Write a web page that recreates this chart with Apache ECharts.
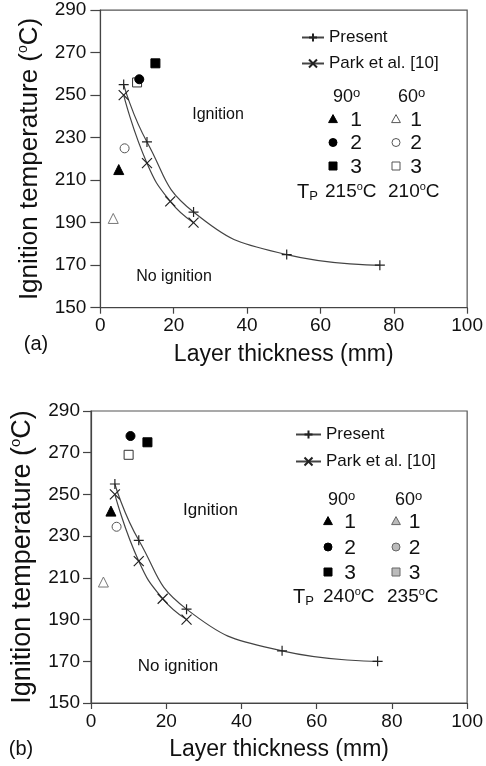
<!DOCTYPE html>
<html>
<head>
<meta charset="utf-8">
<script src="https://cdn.jsdelivr.net/npm/echarts@6/dist/echarts.min.js"></script>
<style>
html,body{margin:0;padding:0;background:#fff;}
#chart{width:486px;height:766px;}
</style>
</head>
<body>
<div id="chart"></div>
<script>
// ---- data ----
const presentThickness = [6.35, 12.7, 25.4, 50.8, 76.2];
const presentTemp = [255, 228, 195, 175, 170];
const parkThickness = [6.35, 12.7, 19.05, 25.4];
const parkTemp = [250, 218, 200, 190];

// panel (a) tests: [thickness, temperature]
const a90_1 = [[5.0, 215]];
const a90_2 = [[10.6, 257.5]];
const a90_3 = [[15.0, 265]];
const a60_1 = [[3.5, 192]];
const a60_2 = [[6.6, 225]];
const a60_3 = [[10.0, 256]];

// panel (b) tests
const b90_1 = [[5.3, 242]];
const b90_2 = [[10.5, 278]];
const b90_3 = [[15.0, 275]];
const b60_1 = [[3.3, 208]];
const b60_2 = [[6.8, 234.5]];
const b60_3 = [[10.0, 269]];

const xTicks = [0, 20, 40, 60, 80, 100];
const yTicks = [150, 170, 190, 210, 230, 250, 270, 290];
const angles = ['90', '60'];
const caseNums = ['1', '2', '3'];
const tpA = ['215', '210'];
const tpB = ['240', '235'];
const seriesNames = ['Present', 'Park et al. [10]'];

const FONT = '"Liberation Sans", Arial, sans-serif';
const zip = (xs, ys) => xs.map((x, i) => [x, ys[i]]);
const plusPath = 'path://M5,0L5,10M0,5L10,5';
const crossPath = 'path://M0,0L10,10M10,0L0,10';

function makeXAxis(gridIndex) {
  return {
    type: 'value', gridIndex, min: xTicks[0], max: xTicks[xTicks.length - 1], interval: 20,
    name: 'Layer thickness (mm)', nameLocation: 'middle', nameGap: 35,
    nameTextStyle: {fontSize: 23, color: '#111', fontFamily: FONT},
    axisLine: {show: true, lineStyle: {color: '#444', width: 1.2}},
    axisTick: {show: true, length: 6, lineStyle: {color: '#444', width: 1.2}},
    axisLabel: {fontSize: 19, color: '#111', fontFamily: FONT, margin: 9},
    splitLine: {show: false}
  };
}
function makeYAxis(gridIndex, nameSize, gap, tickLen, margin) {
  return {
    type: 'value', gridIndex, min: yTicks[0], max: yTicks[yTicks.length - 1], interval: 20,
    name: 'Ignition temperature ({s|o}C)', nameLocation: 'middle', nameRotate: 90, nameGap: gap,
    nameTextStyle: {fontSize: nameSize, color: '#111', fontFamily: FONT, lineHeight: nameSize + 2,
      rich: {s: {fontSize: Math.round(nameSize * 0.55), lineHeight: Math.round(nameSize * 0.55), verticalAlign: 'top', color: '#111', fontFamily: FONT}}},
    axisLine: {show: true, lineStyle: {color: '#444', width: 1.2}},
    axisTick: {show: true, length: tickLen, lineStyle: {color: '#444', width: 1.2}},
    axisLabel: {fontSize: 19, color: '#111', fontFamily: FONT, margin: margin},
    splitLine: {show: false}
  };
}

function lineSeries(name, xs, ys, sym, idx) {
  return {
    type: 'line', name, xAxisIndex: idx, yAxisIndex: idx, data: zip(xs, ys),
    smooth: 0.5, symbol: sym, symbolSize: 10, showAllSymbol: true,
    lineStyle: {color: '#444', width: 1.2},
    itemStyle: {color: '#222', borderColor: '#222', borderWidth: 1.2},
    emphasis: {disabled: true}, z: 3
  };
}
function scatter(name, data, symbol, fill, stroke, idx) {
  return {
    type: 'scatter', name, xAxisIndex: idx, yAxisIndex: idx, data,
    symbol, symbolSize: symbol === 'triangle' ? 10 : 9,
    itemStyle: {color: fill, borderColor: stroke, borderWidth: 1, opacity: 1},
    emphasis: {disabled: true}, z: 4
  };
}

// ---- legend-table graphics (keys for the test markers) ----
function icon(kind, cx, cy, s, fill, stroke) {
  const st = {fill, stroke, lineWidth: 1};
  if (kind === 'triangle') {
    return {type: 'polygon', shape: {points: [[cx, cy - s * 0.55], [cx + s * 0.55, cy + s * 0.45], [cx - s * 0.55, cy + s * 0.45]]}, style: st};
  }
  if (kind === 'circle') return {type: 'circle', shape: {cx, cy, r: s / 2}, style: st};
  return {type: 'rect', shape: {x: cx - s / 2, y: cy - s / 2, width: s, height: s}, style: st};
}
function txt(text, x, y, size, align, rich) {
  return {type: 'text', x, y, style: {text, fontSize: size, fontFamily: FONT, fill: '#111', align: align || 'left', verticalAlign: 'middle', lineHeight: size + 2, rich: rich || undefined}};
}
const supRich = (sz) => ({s: {fontSize: sz, lineHeight: sz, verticalAlign: 'top', fontFamily: FONT, fill: '#111'}});
const subRich = (sz) => ({p: {fontSize: sz, lineHeight: sz, verticalAlign: 'bottom', fontFamily: FONT, fill: '#111'}});
const kinds = ['triangle', 'circle', 'rect'];

function table(cfg) {
  const g = [];
  angles.forEach((a, c) => {
    g.push(txt(a + '{s|o}', cfg.angleX[c], cfg.angleY, 18, 'left', supRich(13)));
  });
  caseNums.forEach((n, r) => {
    const y = cfg.rowY[r];
    g.push(icon(kinds[r], cfg.iconX[0], y, 8, '#000', '#000'));
    g.push(icon(kinds[r], cfg.iconX[1], y, 8, cfg.fill60, cfg.stroke60));
    g.push(txt(n, cfg.numX[0], y + 1, 21, 'center'));
    g.push(txt(n, cfg.numX[1], y + 1, 21, 'center'));
  });
  g.push(txt('T{p|P}', cfg.tX, cfg.tY, 20, 'left', subRich(13)));
  cfg.tp.forEach((v, c) => {
    g.push(txt(v + '{s|o}C', cfg.tpX[c], cfg.tY, 19, 'left', supRich(11)));
  });
  return g;
}

const graphics = [].concat(
  table({angleX: [333, 398], angleY: 97, rowY: [119, 142.5, 166], iconX: [333, 396], numX: [356, 416],
         fill60: '#fff', stroke60: '#555', tX: 297, tY: 192, tp: tpA, tpX: [325, 388]}),
  table({angleX: [328, 395], angleY: 500, rowY: [521, 547, 572], iconX: [328, 396], numX: [350, 414.5],
         fill60: '#bbb', stroke60: '#666', tX: 293, tY: 597, tp: tpB, tpX: [323, 387]}),
  [
    txt('Ignition', 218, 115, 16, 'center'),
    txt('No ignition', 174, 277, 16, 'center'),
    txt('Ignition', 210.5, 510, 17, 'center'),
    txt('No ignition', 178, 666, 17, 'center'),
    txt('(a)', 36, 344, 20, 'center'),
    txt('(b)', 21, 749, 20, 'center')
  ]
);

const chart = echarts.init(document.getElementById('chart'), null, {renderer: 'canvas'});
chart.setOption({
  animation: false,
  backgroundColor: '#fff',
  textStyle: {fontFamily: FONT},
  grid: [
    {left: 100.4, right: 17, top: 10.2, bottom: 458.3, show: true, borderColor: '#555', borderWidth: 1.2},
    {left: 90, right: 17, top: 411, bottom: 63, show: true, borderColor: '#555', borderWidth: 1.2}
  ],
  xAxis: [makeXAxis(0), makeXAxis(1)],
  yAxis: [makeYAxis(0, 26, 56, 10, 14), makeYAxis(1, 27, 54, 8, 11)],
  legend: [
    {data: seriesNames, left: 296, top: 24, orient: 'vertical', itemWidth: 22, itemHeight: 10, itemGap: 9,
     textStyle: {fontSize: 17, color: '#111', fontFamily: FONT}, selectedMode: false},
    {data: seriesNames, left: 290, top: 421, orient: 'vertical', itemWidth: 25, itemHeight: 10, itemGap: 10,
     textStyle: {fontSize: 17, color: '#111', fontFamily: FONT}, selectedMode: false}
  ],
  graphic: graphics,
  series: [
    lineSeries(seriesNames[0], presentThickness, presentTemp, plusPath, 0),
    lineSeries(seriesNames[1], parkThickness, parkTemp, crossPath, 0),
    scatter('60-1a', a60_1, 'triangle', '#fff', '#777', 0),
    scatter('60-2a', a60_2, 'circle', '#fff', '#555', 0),
    scatter('60-3a', a60_3, 'rect', '#fff', '#333', 0),
    scatter('90-1a', a90_1, 'triangle', '#000', '#000', 0),
    scatter('90-2a', a90_2, 'circle', '#000', '#000', 0),
    scatter('90-3a', a90_3, 'rect', '#000', '#000', 0),
    lineSeries(seriesNames[0], presentThickness, presentTemp, plusPath, 1),
    lineSeries(seriesNames[1], parkThickness, parkTemp, crossPath, 1),
    scatter('60-1b', b60_1, 'triangle', '#fff', '#777', 1),
    scatter('60-2b', b60_2, 'circle', '#fff', '#555', 1),
    scatter('60-3b', b60_3, 'rect', '#fff', '#333', 1),
    scatter('90-1b', b90_1, 'triangle', '#000', '#000', 1),
    scatter('90-2b', b90_2, 'circle', '#000', '#000', 1),
    scatter('90-3b', b90_3, 'rect', '#000', '#000', 1)
  ]
});
</script>
</body>
</html>
